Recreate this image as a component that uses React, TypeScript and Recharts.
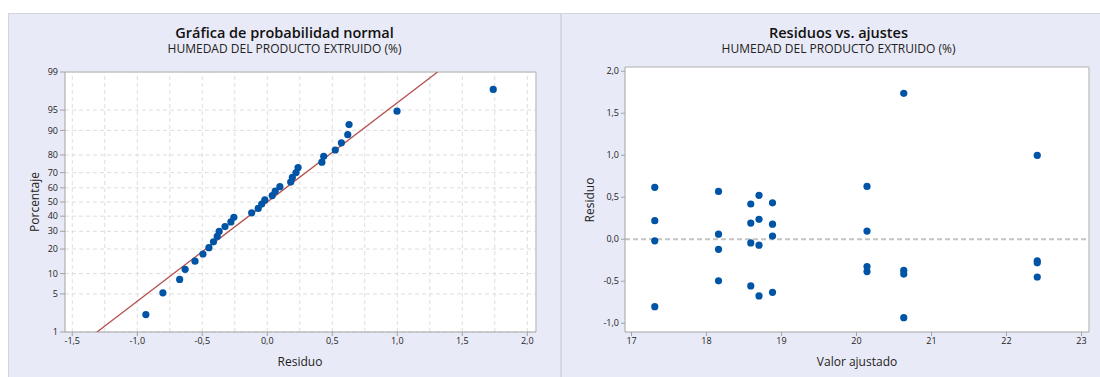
import React from 'react';
import { ComposedChart, Scatter, XAxis, YAxis, CartesianGrid, ReferenceLine } from 'recharts';

// ---------- data ----------
const fittedValues = [
  17.31, 17.31, 17.31, 17.31,
  18.16, 18.16, 18.16, 18.16,
  18.59, 18.59, 18.59, 18.59,
  18.70, 18.70, 18.70, 18.70,
  18.88, 18.88, 18.88, 18.88,
  20.14, 20.14, 20.14, 20.14,
  20.63, 20.63, 20.63, 20.63,
  22.41, 22.41, 22.41, 22.41,
];
const residualValues = [
  0.619, 0.221, -0.019, -0.803,
  0.570, 0.061, -0.120, -0.495,
  0.420, 0.193, -0.043, -0.556,
  0.523, 0.237, -0.070, -0.674,
  0.434, 0.180, 0.038, -0.632,
  0.629, 0.097, -0.325, -0.385,
  1.738, -0.370, -0.414, -0.934,
  0.998, -0.257, -0.280, -0.449,
];
// plotted percentages (normal probability plot), lowest to highest residual
const normalPercents = [
  2.2, 5.2, 8.3, 11.4, 14.5, 17.6, 20.7, 23.8, 26.9, 29.9, 33.0, 36.1, 39.2, 42.3, 45.4, 48.5,
  51.5, 54.6, 57.7, 60.8, 63.9, 67.0, 70.1, 73.1, 76.2, 79.3, 82.4, 85.5, 88.6, 91.7, 94.8, 97.8,
];
const fitLineResiduals = [-1.31, 1.31];
const fitLinePercents = [1, 99];

const percentTicks = [1, 5, 10, 20, 30, 40, 50, 60, 70, 80, 90, 95, 99];
const leftXTicks = [-1.5, -1.0, -0.5, 0.0, 0.5, 1.0, 1.5, 2.0];
const leftXGrid = [-1.5, -1.25, -1.0, -0.75, -0.5, -0.25, 0.0, 0.25, 0.5, 0.75, 1.0, 1.25, 1.5, 1.75, 2.0];
const rightXTicks = [17, 18, 19, 20, 21, 22, 23];
const rightYTicks = [-1.0, -0.5, 0.0, 0.5, 1.0, 1.5, 2.0];

// ---------- helpers ----------
// inverse standard normal CDF (Acklam) - used as the probability-axis scale transform
function probit(p: number): number {
  const a = [-39.69683028665376, 220.9460984245205, -275.9285104469687, 138.357751867269, -30.66479806614716, 2.506628277459239];
  const b = [-54.47609879822406, 161.5858368580409, -155.6989798598866, 66.80131188771972, -13.28068155288572];
  const c = [-0.007784894002430293, -0.3223964580411365, -2.400758277161838, -2.549732539343734, 4.374664141464968, 2.938163982698783];
  const d = [0.007784695709041462, 0.3224671290700398, 2.445134137142996, 3.754408661907416];
  const pl = 0.02425;
  if (p < pl) {
    const q = Math.sqrt(-2 * Math.log(p));
    return (((((c[0] * q + c[1]) * q + c[2]) * q + c[3]) * q + c[4]) * q + c[5]) / ((((d[0] * q + d[1]) * q + d[2]) * q + d[3]) * q + 1);
  }
  if (p > 1 - pl) {
    const q = Math.sqrt(-2 * Math.log(1 - p));
    return -(((((c[0] * q + c[1]) * q + c[2]) * q + c[3]) * q + c[4]) * q + c[5]) / ((((d[0] * q + d[1]) * q + d[2]) * q + d[3]) * q + 1);
  }
  const q = p - 0.5;
  const r = q * q;
  return (((((a[0] * r + a[1]) * r + a[2]) * r + a[3]) * r + a[4]) * r + a[5]) * q / (((((b[0] * r + b[1]) * r + b[2]) * r + b[3]) * r + b[4]) * r + 1);
}
const z = (pct: number) => probit(pct / 100);
const comma1 = (v: number) => v.toFixed(1).replace('.', ',');

const sortedResiduals = [...residualValues].sort((a, b) => a - b);
const normalData = sortedResiduals.map((r, i) => ({ res: r, z: z(normalPercents[i]) }));
const fitLineData = fitLineResiduals.map((r, i) => ({ res: r, z: z(fitLinePercents[i]) }));
const residualData = fittedValues.map((f, i) => ({ fit: f, res: residualValues[i] }));

const zTicks = percentTicks.map(z);
const zLabel = new Map(zTicks.map((t, i) => [t.toFixed(6), String(percentTicks[i])]));

// ---------- styling ----------
const FONT = "'Open Sans', 'Noto Sans', sans-serif";
const LAVENDER = '#E9EAF7';
const BLUE = '#0054A6';
const AXIS = '#A3A3A3';
const BORDER = '#C6C6C6';
const tickStyle = { fill: '#222', fontSize: 9, fontFamily: FONT };

const Dot = (props: any) => <circle cx={props.cx} cy={props.cy} r={3.6} fill={BLUE} />;
const NoDot = () => null;

const abs = (s: React.CSSProperties): React.CSSProperties => ({ position: 'absolute', ...s });

export default function App() {
  return (
    <div style={abs({ left: 0, top: 0, width: 1100, height: 377, background: '#fff', overflow: 'hidden', fontFamily: FONT })}>
      {/* panels */}
      <div style={abs({ left: 8, top: 13, width: 553, height: 364, background: LAVENDER, borderTop: '1px solid #D4D5DE', borderLeft: '1px solid #D4D5DE', boxSizing: 'border-box' })} />
      <div style={abs({ left: 560, top: 13, width: 2, height: 364, background: '#D6D7E0' })} />
      <div style={abs({ left: 562, top: 13, width: 538, height: 364, background: LAVENDER, borderTop: '1px solid #D4D5DE', boxSizing: 'border-box' })} />

      {/* left chart */}
      <div style={abs({ left: 0, top: 0 })}>
        <ComposedChart width={561} height={377} margin={{ top: 72, right: 25, bottom: 15, left: 25 }} data={normalData}>
          <CartesianGrid fill="#fff" vertical={false} stroke="#DEDEDE" strokeDasharray="4 3" />
          {leftXGrid.map((v) => (
            <ReferenceLine key={v} x={v} stroke="#DEDEDE" strokeDasharray="4 3" ifOverflow="visible" />
          ))}
          <ReferenceLine y={zTicks[zTicks.length - 1]} stroke={BORDER} strokeWidth={1.5} ifOverflow="visible" />
          <ReferenceLine x={2.067} stroke={BORDER} strokeWidth={1.5} ifOverflow="visible" />
          <XAxis
            dataKey="res"
            type="number"
            domain={[-1.556, 2.067]}
            allowDataOverflow
            ticks={leftXTicks}
            tickFormatter={comma1}
            tick={tickStyle}
            tickSize={4}
            tickMargin={2}
            height={30}
            axisLine={{ stroke: AXIS }}
            tickLine={{ stroke: AXIS }}
          />
          <YAxis
            dataKey="z"
            type="number"
            domain={[zTicks[0], zTicks[zTicks.length - 1]]}
            allowDataOverflow
            ticks={zTicks}
            interval={0}
            tickFormatter={(v: number) => zLabel.get(v.toFixed(6)) ?? ''}
            tick={tickStyle}
            tickSize={5}
            tickMargin={2}
            width={40}
            axisLine={{ stroke: AXIS }}
            tickLine={{ stroke: AXIS }}
          />
          <Scatter data={fitLineData} dataKey="z" line={{ stroke: '#B5514D', strokeWidth: 1.3 }} shape={NoDot} isAnimationActive={false} />
          <Scatter data={normalData} dataKey="z" shape={Dot} isAnimationActive={false} />
        </ComposedChart>
      </div>

      {/* right chart */}
      <div style={abs({ left: 561, top: 0 })}>
        <ComposedChart width={539} height={377} margin={{ top: 67, right: 11, bottom: 15, left: 24 }} data={residualData}>
          <CartesianGrid fill="#fff" horizontal={false} vertical={false} />
          <ReferenceLine y={2.051} stroke={BORDER} strokeWidth={1.5} ifOverflow="visible" />
          <ReferenceLine x={23.1} stroke={BORDER} strokeWidth={1.5} ifOverflow="visible" />
          <ReferenceLine y={0} stroke="#C4C4C4" strokeWidth={2} strokeDasharray="5 3" />
          <XAxis
            dataKey="fit"
            type="number"
            domain={[16.913, 23.1]}
            allowDataOverflow
            ticks={rightXTicks}
            tick={tickStyle}
            tickSize={4}
            tickMargin={2}
            height={30}
            axisLine={{ stroke: AXIS }}
            tickLine={{ stroke: AXIS }}
          />
          <YAxis
            dataKey="res"
            type="number"
            domain={[-1.104, 2.051]}
            allowDataOverflow
            ticks={rightYTicks}
            interval={0}
            tickFormatter={comma1}
            tick={tickStyle}
            tickSize={4}
            tickMargin={2}
            width={40}
            axisLine={{ stroke: AXIS }}
            tickLine={{ stroke: AXIS }}
          />
          <Scatter data={residualData} dataKey="res" shape={Dot} isAnimationActive={false} />
        </ComposedChart>
      </div>

      {/* titles */}
      <div style={abs({ left: 8, width: 553, top: 24, textAlign: 'center', fontSize: 14.5, fontWeight: 600, color: '#111', lineHeight: '18px' })}>Gráfica de probabilidad normal</div>
      <div style={abs({ left: 8, width: 553, top: 42, textAlign: 'center', fontSize: 12, color: '#222', lineHeight: '14px' })}>HUMEDAD DEL PRODUCTO EXTRUIDO (%)</div>
      <div style={abs({ left: 562, width: 553, top: 24, textAlign: 'center', fontSize: 14.5, fontWeight: 600, color: '#111', lineHeight: '18px' })}>Residuos vs. ajustes</div>
      <div style={abs({ left: 562, width: 553, top: 42, textAlign: 'center', fontSize: 12, color: '#222', lineHeight: '14px' })}>HUMEDAD DEL PRODUCTO EXTRUIDO (%)</div>

      {/* axis titles */}
      <div style={abs({ left: 300, top: 354, transform: 'translateX(-50%)', fontSize: 12, color: '#222', lineHeight: '16px', whiteSpace: 'nowrap' })}>Residuo</div>
      <div style={abs({ left: 35, top: 202, transform: 'translate(-50%, -50%) rotate(-90deg)', fontSize: 12, color: '#222', lineHeight: '16px', whiteSpace: 'nowrap' })}>Porcentaje</div>
      <div style={abs({ left: 857, top: 354, transform: 'translateX(-50%)', fontSize: 12, color: '#222', lineHeight: '16px', whiteSpace: 'nowrap' })}>Valor ajustado</div>
      <div style={abs({ left: 590, top: 200, transform: 'translate(-50%, -50%) rotate(-90deg)', fontSize: 12, color: '#222', lineHeight: '16px', whiteSpace: 'nowrap' })}>Residuo</div>
    </div>
  );
}
